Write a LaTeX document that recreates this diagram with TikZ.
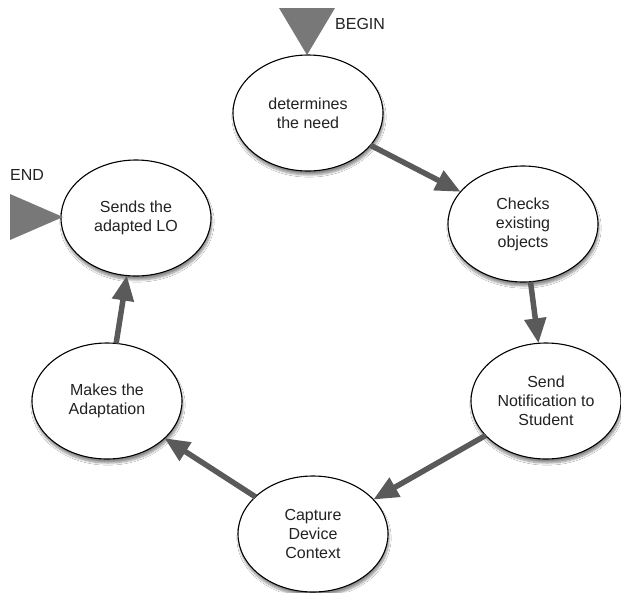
\documentclass[tikz,border=0pt]{standalone}
\usepackage{fontspec}
\setmainfont{Liberation Sans}
\usetikzlibrary{arrows.meta,shapes.geometric,shadows.blur}
\definecolor{arrowgrey}{HTML}{5A5A5A}
\definecolor{trigrey}{HTML}{787878}
\definecolor{textdark}{HTML}{222222}
\tikzset{
  stepnode/.style={ellipse, draw=black, line width=1.1pt, fill=white,
    minimum width=150pt, minimum height=116pt, inner sep=0pt, outer sep=0pt,
    align=center, text=textdark,
    font=\fontsize{16pt}{19pt}\selectfont,
    blur shadow={shadow xshift=1pt, shadow yshift=-4pt, shadow blur steps=8, shadow opacity=45}},
  flow/.style={draw=arrowgrey, line width=5.5pt,
    -{Triangle[length=25pt, width=21pt]}},
  marker/.style={fill=trigrey, draw=none},
  label/.style={anchor=west, inner sep=0pt, text=textdark, font=\fontsize{16pt}{19pt}\selectfont}
}
\begin{document}
\begin{tikzpicture}[x=1pt, y=-1pt]
\useasboundingbox[fill=white] (0,0) rectangle (621,592);

\node[stepnode] (n1) at (308,113) {determines\\the need};
\node[stepnode] (n2) at (523,224) {Checks\\existing\\objects};
\node[stepnode] (n3) at (546,401) {Send\\Notification to\\Student};
\node[stepnode] (n4) at (313,534) {Capture\\Device\\Context};
\node[stepnode] (n5) at (107,401) {Makes the\\Adaptation};
\node[stepnode] (n6) at (136,218) {Sends the\\adapted LO};

\draw[flow] (n1) -- (n2);
\draw[flow] (n2) -- (n3);
\draw[flow] (n3) -- (n4);
\draw[flow] (n4) -- (n5);
\draw[flow] (n5) -- (n6);

% BEGIN marker
\coordinate (b1) at (279,8);
\coordinate (b2) at (335,8);
\coordinate (btip) at (307,55);
\fill[marker] (b1) -- (b2) -- (btip) -- cycle;
\node[label] (begin) at (335,24) {BEGIN};

% END marker
\coordinate (e1) at (10,194);
\coordinate (e2) at (10,240);
\coordinate (etip) at (63,217);
\fill[marker] (e1) -- (etip) -- (e2) -- cycle;
\node[label] (end) at (10,175) {END};
\end{tikzpicture}
\end{document}
